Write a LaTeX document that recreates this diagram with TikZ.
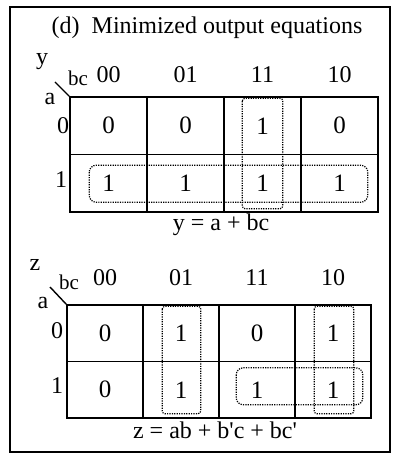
\documentclass[tikz,border=0pt]{standalone}
\usepackage{fontspec}
\setmainfont{Liberation Serif}
\usetikzlibrary{calc}
\begin{document}
\begin{tikzpicture}[x=1pt,y=-1pt,
  cellA/.style={draw,line width=1.6pt,minimum width=77pt,minimum height=57.5pt,inner sep=0pt,font=\fontsize{25}{25}\selectfont},
  cellB/.style={draw,line width=1.6pt,minimum width=76pt,minimum height=56.5pt,inner sep=0pt,font=\fontsize{25}{25}\selectfont},
  lbl/.style={inner sep=0pt,font=\fontsize{24}{24}\selectfont},
  smalllbl/.style={inner sep=0pt,font=\fontsize{21}{21}\selectfont},
  grp/.style={dash pattern=on 1.2pt off 1.2pt,line width=1.2pt,rounded corners=7pt},
  vgrp/.style={dash pattern=on 1.2pt off 1.2pt,line width=1.2pt,rounded corners=3pt}]
\useasboundingbox (0,0) rectangle (398,462);
\fill[white] (0,0) rectangle (398,462);
\draw[line width=1.7pt] (10,7) rectangle (390,452);
\node[lbl] (title) at (207,28) {(d)\ \ Minimized output equations};
% ---- map y ----
\foreach \c/\v in {0/0,1/0,2/1,3/0} {
  \node[cellA] (yA\c) at (108.5+77*\c,125.75) {\v};
}
\foreach \c/\v in {0/1,1/1,2/1,3/1} {
  \node[cellA] (yB\c) at (108.5+77*\c,183.25) {\v};
}
\foreach \c/\t in {0/00,1/01,2/11,3/10} {
  \node[lbl] (yh\c) at (108.5+77*\c,75) {\t};
}
\node[lbl] (yname) at (42,62) {y};
\node[smalllbl] (ybc) at (78,78) {bc};
\node[lbl] (ya) at (50,99) {a};
\node[lbl] (yr0) at (63,126) {0};
\node[lbl] (yr1) at (61,180) {1};
\coordinate (ydiag) at (55,82);
\draw[line width=1.4pt] (ydiag) -- (yA0.north west);
\draw[vgrp] ($(yA2.north west)+(19,2)$) rectangle ($(yB2.south east)+(-19,-4)$);
\draw[grp] ($(yB0.west)+(20,-18)$) rectangle ($(yB3.east)+(-11,19)$);
\node[lbl] (yeq) at (221,225) {y = a + bc};
% ---- map z ----
\foreach \c/\v in {0/0,1/1,2/0,3/1} {
  \node[cellB] (zA\c) at (105+76*\c,333.25) {\v};
}
\foreach \c/\v in {0/0,1/1,2/1,3/1} {
  \node[cellB] (zB\c) at (105+76*\c,389.75) {\v};
}
\foreach \c/\t in {0/00,1/01,2/11,3/10} {
  \node[lbl] (zh\c) at (105+76*\c,278) {\t};
}
\node[lbl] (zname) at (35,265) {z};
\node[smalllbl] (zbc) at (69,282) {bc};
\node[lbl] (za) at (43,303) {a};
\node[lbl] (zr0) at (57,331) {0};
\node[lbl] (zr1) at (57,386) {1};
\coordinate (zdiag) at (50,287);
\draw[line width=1.4pt] (zdiag) -- (zA0.north west);
\draw[vgrp] ($(zA1.north west)+(20,2)$) rectangle ($(zB1.south east)+(-19,-5)$);
\draw[vgrp] ($(zA3.north west)+(20,2)$) rectangle ($(zB3.south east)+(-18,-5)$);
\draw[grp] ($(zB2.south west)+(18,-51)$) rectangle ($(zB3.east)+(-9,15)$);
\node[lbl] (zeq) at (215,430) {z = ab + b\textquotesingle c + bc\textquotesingle};
\end{tikzpicture}
\end{document}
